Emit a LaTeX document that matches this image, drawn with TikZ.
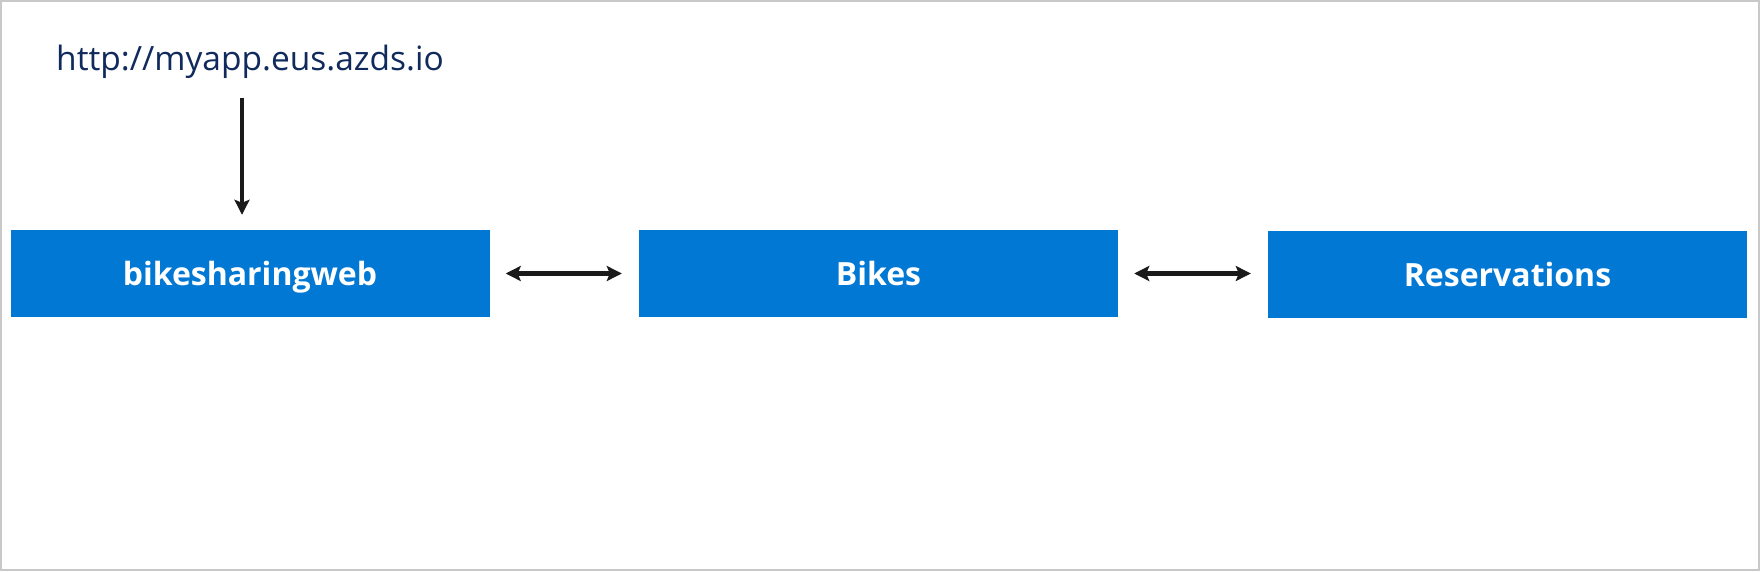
\documentclass[tikz,border=0pt]{standalone}
\usepackage{fontspec}
\setmainfont{Open Sans}
\usetikzlibrary{arrows.meta}
\definecolor{boxblue}{RGB}{0,120,212}
\definecolor{urlnavy}{RGB}{16,42,92}
\definecolor{arrowdark}{RGB}{26,26,26}
\definecolor{framegray}{RGB}{200,200,200}
\begin{document}
\begin{tikzpicture}[x=1pt,y=-1pt,
  svcbox/.style={fill=boxblue, draw=none, minimum width=479pt, minimum height=87pt,
    inner sep=0pt, text=white, text height=24pt, text depth=0pt,
    font=\fontsize{32}{38}\selectfont\bfseries},
  conn/.style={arrowdark, line width=4.5pt,
    -{Stealth[length=15pt,width=15pt,inset=3pt]}},
  biconn/.style={arrowdark, line width=4.5pt,
    {Stealth[length=15pt,width=15pt,inset=3pt]}-{Stealth[length=15pt,width=15pt,inset=3pt]},
    shorten <=16pt, shorten >=17pt}]
\useasboundingbox (0,0) rectangle (1760,572);
\draw[framegray, line width=2pt] (1,1) rectangle (1759,570);
\node[anchor=base west, inner sep=0pt, text=urlnavy, font=\fontsize{33.5}{40}\selectfont] (url) at (56,71) {http://myapp.eus.azds.io};
\node[svcbox] (web) at (250,273.5) {bikesharingweb};
\node[svcbox] (bikes) at (878.5,273.5) {Bikes};
\node[svcbox] (res) at (1507.5,274.5) {Reservations};
\coordinate (urlin) at (242,98);
\draw[conn, shorten >=15pt] (urlin) -- (urlin |- web.north);
\draw[biconn] (web.east) -- (bikes.west);
\draw[biconn] (bikes.east) -- (res.west |- bikes.east);
\end{tikzpicture}
\end{document}
